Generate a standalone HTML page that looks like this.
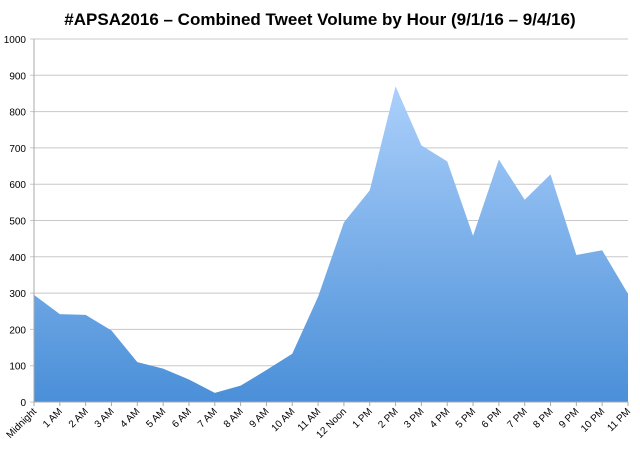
<!DOCTYPE html>
<html><head><meta charset="utf-8"><style>
body{margin:0;background:#fff;}
svg{display:block;font-family:"Liberation Sans",sans-serif;}
</style></head><body>
<svg id="chart" width="640" height="455">
<defs><linearGradient id="g" x1="0" y1="0" x2="0" y2="1"><stop offset="0" stop-color="#acd0fb"/><stop offset="1" stop-color="#4a8fd8"/></linearGradient></defs>
<text x="320" y="25" text-anchor="middle" font-size="17" font-weight="bold" fill="#000">#APSA2016 – Combined Tweet Volume by Hour (9/1/16 – 9/4/16)</text>
<g id="grid"></g><g id="area"></g><g id="axes"></g>
</svg>
<script>
const categories=["Midnight","1 AM","2 AM","3 AM","4 AM","5 AM","6 AM","7 AM","8 AM","9 AM","10 AM","11 AM","12 Noon","1 PM","2 PM","3 PM","4 PM","5 PM","6 PM","7 PM","8 PM","9 PM","10 PM","11 PM"];
const values=[295,242,240,197,110,92,62,25,45,88,133,290,495,583,870,707,663,458,668,557,627,405,418,298];
const yTicks=[0,100,200,300,400,500,600,700,800,900,1000];
const NS="http://www.w3.org/2000/svg";
const x0=34,x1=628,yTop=39,yBot=402;
const xs=i=>x0+i*(x1-x0)/(categories.length-1);
const ys=v=>yBot-v/1000*(yBot-yTop);
const grid=document.getElementById('grid'),area=document.getElementById('area'),axes=document.getElementById('axes');
function mk(t,a,p){const e=document.createElementNS(NS,t);for(const k in a)e.setAttribute(k,a[k]);p.appendChild(e);return e;}
yTicks.forEach(v=>{
 const l=mk('line',{x1:x0-4,x2:x1,y1:ys(v),y2:ys(v),stroke:'#c8c8c8','stroke-width':1},grid);
 
 
 const t=mk('text',{x:26,y:ys(v)+4,'text-anchor':'end','font-size':10,fill:'#000'},axes);
 t.textContent=v;
 
 
});
let d='M'+xs(0)+','+yBot;
values.forEach((v,i)=>{d+=' L'+xs(i)+','+ys(v);});
d+=' L'+xs(values.length-1)+','+yBot+' Z';
const p=mk('path',{d:d,fill:'url(#g)'},area);


const ya=mk('line',{x1:x0,x2:x0,y1:yTop,y2:yBot,stroke:'#aaa'},axes);


const xa=mk('line',{x1:x0,x2:x1,y1:yBot,y2:yBot,stroke:'#aaa'},axes);


categories.forEach((c,i)=>{
 const tk=mk('line',{x1:xs(i),x2:xs(i),y1:yBot,y2:yBot+4,stroke:'#aaa'},axes);
 
 
 const tx=xs(i)+3,ty=yBot+10;
 const t=mk('text',{x:tx,y:ty,'text-anchor':'end','font-size':10,fill:'#000',transform:'rotate(-45 '+tx+' '+ty+')'},axes);
 t.textContent=c;
 
 
});
</script>
</body></html>
